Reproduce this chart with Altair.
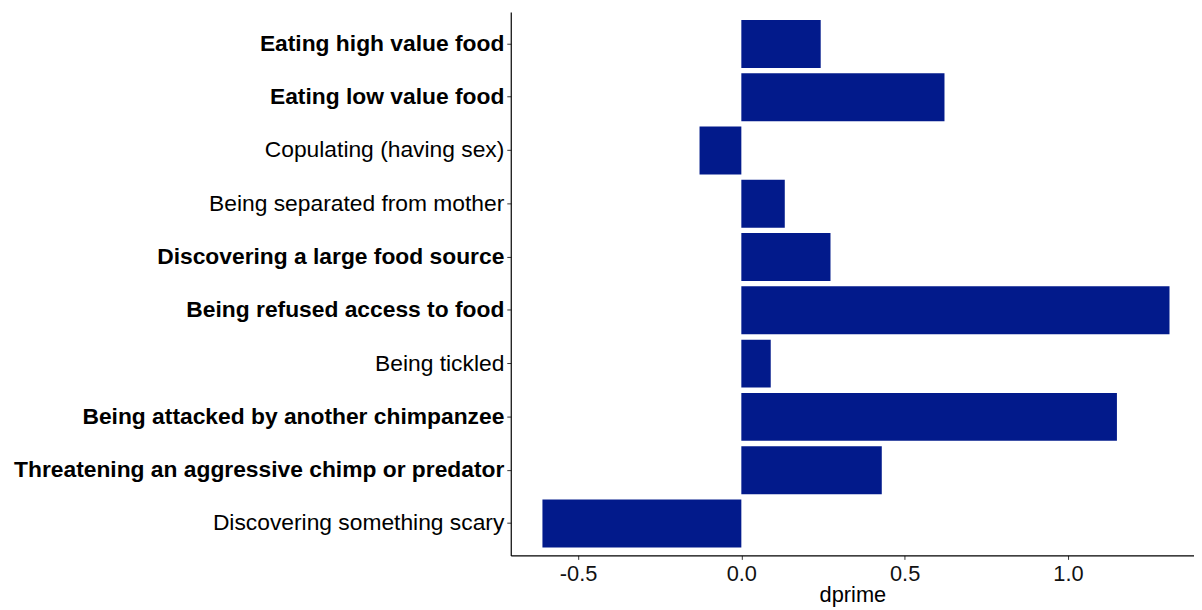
import altair as alt
import pandas as pd

categories = [
    "Eating high value food",
    "Eating low value food",
    "Copulating (having sex)",
    "Being separated from mother",
    "Discovering a large food source",
    "Being refused access to food",
    "Being tickled",
    "Being attacked by another chimpanzee",
    "Threatening an aggressive chimp or predator",
    "Discovering something scary",
]
dprime = [0.243, 0.622, -0.128, 0.133, 0.273, 1.311, 0.090, 1.150, 0.430, -0.609]
bold_labels = [
    "Eating high value food",
    "Eating low value food",
    "Discovering a large food source",
    "Being refused access to food",
    "Being attacked by another chimpanzee",
    "Threatening an aggressive chimp or predator",
]
x_ticks = [-0.5, 0.0, 0.5, 1.0]

df = pd.DataFrame({"label": categories, "dprime": dprime})

bold_test = "indexof(" + str(bold_labels).replace("'", '"') + ", datum.value) >= 0"

chart = alt.Chart(df).mark_bar(color="#021A8B").encode(
    x=alt.X(
        "dprime:Q",
        scale=alt.Scale(domain=[-0.706, 1.386], nice=False, zero=False),
        axis=alt.Axis(
            values=x_ticks,
            format=".1f",
            labelExpr="replace(datum.label, '\u2212', '-')",
            title="dprime",
            grid=False,
            domainColor="black",
            domainWidth=1.2,
            tickColor="#333333",
            tickSize=4,
            labelFontSize=22,
            labelColor="#111111",
            labelPadding=4,
            titleFontSize=22,
            titleFontWeight="normal",
            titleColor="black",
            titlePadding=0,
        ),
    ),
    y=alt.Y(
        "label:N",
        sort=categories,
        scale=alt.Scale(paddingInner=0.1, paddingOuter=0.15),
        axis=alt.Axis(
            title=None,
            grid=False,
            domainColor="black",
            domainWidth=1.2,
            tickColor="#333333",
            tickSize=4,
            labelFontSize=23,
            labelColor="black",
            labelPadding=3,
            labelLimit=600,
            labelFontWeight={"condition": {"test": bold_test, "value": "bold"}, "value": "normal"},
        ),
    ),
).properties(
    width=689,
    height=548,
    autosize=alt.AutoSizeParams(type="none"),
    padding={"left": 507, "top": 1.5, "right": 0, "bottom": 50},
).configure(
    font="Liberation Sans"
).configure_view(
    stroke=None
)

chart.save("out.html", embed_options={"renderer": "svg", "actions": False})
